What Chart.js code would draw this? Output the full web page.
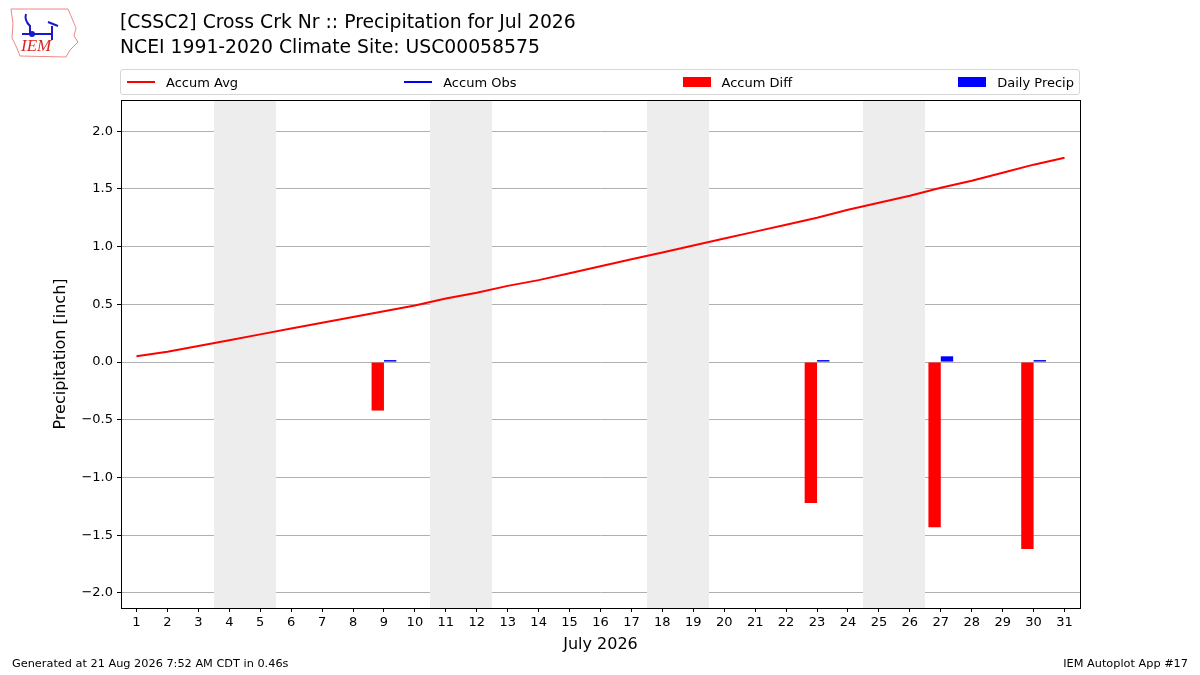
<!DOCTYPE html>
<html>
<head>
<meta charset="utf-8">
<script src="https://cdn.jsdelivr.net/npm/chart.js@4.4.0/dist/chart.umd.min.js"></script>
<style>
  body { margin: 0; background: #fff; font-family: "DejaVu Sans", sans-serif; }
  #wrap { position: relative; width: 1200px; height: 675px; }
  #chart { position: absolute; left: 0; top: 0; }
  .title { position: absolute; left: 120px; font-size: 18.8px; color: #000; white-space: nowrap; }
  .foot { position: absolute; top: 657px; font-size: 11.3px; color: #000; }
  #legend { position: absolute; left: 120px; top: 69px; width: 960px; height: 26px;
            border: 1px solid #d6d6d6; border-radius: 3px; display: flex;
            justify-content: space-between; align-items: center; font-size: 13px; box-sizing: border-box;
            padding: 0 5px 0 6px; }
  .item { display: flex; align-items: center; }
  .sw { display: inline-block; width: 28px; margin-right: 11px; }
  #logo { position: absolute; left: 8px; top: 6px; width: 72px; height: 52px; }
</style>
</head>
<body>
<div id="wrap">
  <canvas id="chart" width="1200" height="675"></canvas>
  <svg id="logo" viewBox="0 0 72 52">
    <path d="M3 3 L60 3 L63 10 L68 22 L66 30 L70 36 L62 44 L58 51 L12 50 L8 40 L4 32 L5 18 Z"
          fill="none" stroke="#e88" stroke-width="1"/>
    <path d="M14 28 L44 28 M44 20 L44 34 M40 16 L50 20 M18 8 Q16 14 22 20 L22 28" fill="none" stroke="#1a1acc" stroke-width="2"/>
    <circle cx="24" cy="28" r="3" fill="#1a1acc"/>
    <text x="13" y="45" font-family="Liberation Serif, serif" font-style="italic" font-size="17" fill="#d22">IEM</text>
  </svg>
  <div class="title" style="top:11px">[CSSC2] Cross Crk Nr :: Precipitation for Jul 2026</div>
  <div class="title" style="top:36px">NCEI 1991-2020 Climate Site: USC00058575</div>
  <div id="legend"></div>
  <div class="foot" style="left:12px">Generated at 21 Aug 2026 7:52 AM CDT in 0.46s</div>
  <div class="foot" style="right:12px">IEM Autoplot App #17</div>
</div>
<script>
// July 2026 days
var days = [];
for (var d = 1; d <= 31; d++) days.push(String(d));

// accumulated climatology (inch)
var accumAvg = [0.05, 0.09, 0.14, 0.19, 0.24, 0.29, 0.34, 0.39, 0.44, 0.49,
                0.55, 0.60, 0.66, 0.71, 0.77, 0.83, 0.89, 0.95, 1.01, 1.07,
                1.13, 1.19, 1.25, 1.32, 1.38, 1.44, 1.51, 1.57, 1.64, 1.71, 1.77];

// accumulated observed (not visible in the picture)
var accumObs = [null, null, null, null, null, null, null, null, null, null,
                null, null, null, null, null, null, null, null, null, null,
                null, null, null, null, null, null, null, null, null, null, null];

// departure of accumulated obs from average
var accumDiff = [null, null, null, null, null, null, null, null, -0.42, null,
                 null, null, null, null, null, null, null, null, null, null,
                 null, null, -1.22, null, null, null, -1.43, null, null, -1.62, null];

// daily precipitation
var dailyPrecip = [null, null, null, null, null, null, null, null, 0.01, null,
                   null, null, null, null, null, null, null, null, null, null,
                   null, null, 0.01, null, null, null, 0.05, null, null, 0.01, null];

// weekends to shade (first day, last day)
var weekendStart = [4, 11, 18, 25];
var weekendEnd = [5, 12, 19, 26];

var yTicks = [-2.0, -1.5, -1.0, -0.5, 0.0, 0.5, 1.0, 1.5, 2.0];

var shadePlugin = {
    id: "shade",
    beforeDatasetsDraw: function (chart) {
        var ctx = chart.ctx, x = chart.scales.x, area = chart.chartArea;
        var half = (x.getPixelForValue(1) - x.getPixelForValue(0)) / 2;
        ctx.save();
        ctx.fillStyle = "#ededed";
        weekendStart.forEach(function (s, i) {
            var p0 = Math.round(x.getPixelForValue(s - 1) - half);
            var p1 = Math.round(x.getPixelForValue(weekendEnd[i] - 1) + half);
            ctx.fillRect(p0, area.top, p1 - p0, area.bottom - area.top);
        });
        ctx.restore();
    }
};

var framePlugin = {
    id: "frame",
    afterDraw: function (chart) {
        var ctx = chart.ctx, a = chart.chartArea;
        ctx.save();
        ctx.strokeStyle = "#000";
        ctx.lineWidth = 1;
        ctx.strokeRect(Math.round(a.left) + 0.5, Math.round(a.top) + 0.5,
                       Math.round(a.right - a.left), Math.round(a.bottom - a.top));
        ctx.restore();
    }
};

// Chart initialization
var myChart = document.getElementById("chart").getContext("2d");
var chart = new Chart(myChart, {
    type: "bar",
    data: {
        labels: days,
        datasets: [
            {
                type: "line",
                label: "Accum Avg",
                data: accumAvg,
                borderColor: "#ff0000",
                backgroundColor: "#ff0000",
                borderWidth: 2,
                pointRadius: 0,
                tension: 0,
                order: 0
            },
            {
                type: "line",
                label: "Accum Obs",
                data: accumObs,
                borderColor: "#0000ff",
                backgroundColor: "#0000ff",
                borderWidth: 2,
                pointRadius: 0,
                order: 0
            },
            {
                label: "Accum Diff",
                data: accumDiff,
                backgroundColor: "#ff0000",
                categoryPercentage: 0.8,
                barPercentage: 1.0,
                order: 1
            },
            {
                label: "Daily Precip",
                data: dailyPrecip,
                backgroundColor: "#0000ff",
                categoryPercentage: 0.8,
                barPercentage: 1.0,
                minBarLength: 2,
                order: 1
            }
        ]
    },
    options: {
        responsive: false,
        animation: false,
        devicePixelRatio: 1,
        layout: { padding: { left: 0, right: 120, top: 100, bottom: 0 } },
        plugins: {
            legend: { display: false },
            tooltip: { enabled: false }
        },
        scales: {
            x: {
                offset: true,
                grid: { display: true, offset: false, drawOnChartArea: false, drawTicks: true, tickLength: 4, color: "#000" },
                border: { display: false },
                ticks: { color: "#000", font: { family: "DejaVu Sans", size: 13 }, padding: 3, maxRotation: 0, autoSkip: false },
                title: { display: true, text: "July 2026", color: "#000",
                         font: { family: "DejaVu Sans", size: 16 }, padding: { top: 0, bottom: 21 } },
                afterFit: function (scale) { scale.height = 67; }
            },
            y: {
                min: -2.13,
                max: 2.27,
                afterBuildTicks: function (scale) {
                    scale.ticks = yTicks.map(function (v) { return { value: v }; });
                },
                grid: { color: "#b0b0b0", tickColor: "#000", tickLength: 4, lineWidth: 1 },
                border: { display: false },
                ticks: {
                    color: "#000",
                    font: { family: "DejaVu Sans", size: 13 },
                    padding: 4,
                    callback: function (v) { return (v < 0 ? "\u2212" : "") + Math.abs(v).toFixed(1); }
                },
                title: { display: true, text: "Precipitation [inch]", color: "#000",
                         font: { family: "DejaVu Sans", size: 16 }, padding: { top: 51, bottom: 0 } },
                afterFit: function (scale) { scale.width = 121; }
            }
        }
    },
    plugins: [shadePlugin, framePlugin]
});

// legend spread across the top like the original
var legend = document.getElementById("legend");
chart.data.datasets.forEach(function (ds) {
    var item = document.createElement("div");
    item.className = "item";
    var sw = document.createElement("span");
    sw.className = "sw";
    if (ds.type === "line") {
        sw.style.height = "2px";
        sw.style.background = ds.borderColor;
    } else {
        sw.style.height = "10px";
        sw.style.background = ds.backgroundColor;
    }
    item.appendChild(sw);
    item.appendChild(document.createTextNode(ds.label));
    legend.appendChild(item);
});
</script>
</body>
</html>
